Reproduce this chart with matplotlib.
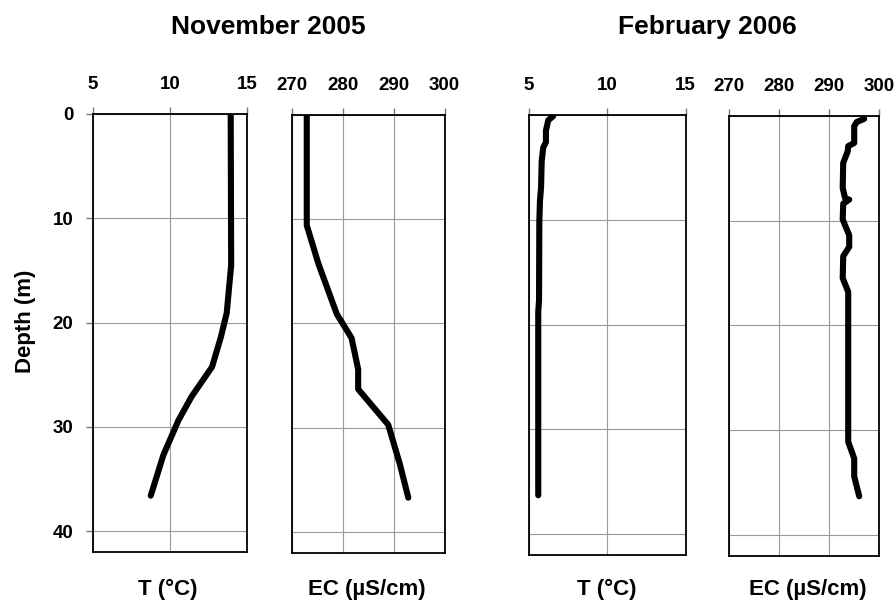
import matplotlib
matplotlib.use("Agg")
import matplotlib.pyplot as plt

plt.rcParams['font.family'] = ['Liberation Sans', 'DejaVu Sans']
plt.rcParams['font.weight'] = 'bold'

# November 2005 profiles
nov_t_depth = [0, 14.5, 19.1, 21.4, 24.25, 27.1, 29.4, 32.7, 36.6]
nov_t = [13.94, 13.97, 13.68, 13.3, 12.73, 11.4, 10.54, 9.57, 8.75]

nov_ec_depth = [0, 10.6, 14.3, 19.1, 21.4, 24.4, 26.3, 29.7, 33.5, 36.7]
nov_ec = [272.9, 272.9, 275.2, 278.8, 281.7, 283.0, 283.0, 288.9, 291.2, 292.85]

# February 2006 profiles
feb_t_depth = [0.1, 0.5, 1.5, 2.6, 3.1, 4.4, 6.9, 8.2, 10.1, 17.7, 18.8, 36.3]
feb_t = [6.55, 6.23, 6.08, 6.08, 5.91, 5.81, 5.77, 5.7, 5.66, 5.64, 5.59, 5.59]

feb_ec_depth = [0.3, 0.6, 1.0, 2.6, 2.9, 3.4, 4.5, 6.9, 7.9, 8.0, 8.4, 9.9,
                11.4, 12.5, 13.4, 15.5, 16.8, 31.1, 32.7, 34.4, 36.3]
feb_ec = [297.1, 295.6, 295.1, 295.1, 293.9, 293.8, 292.9, 292.8, 293.3, 294.1,
          292.9, 292.8, 294.1, 294.1, 292.9, 292.8, 293.9, 293.9, 295.1, 295.1, 296.1]

t_ticks = [5, 10, 15]
ec_ticks = [270, 280, 290, 300]
depth_ticks = [0, 10, 20, 30, 40]

fig = plt.figure(figsize=(8.96, 6.03), dpi=100)

boxes = [
    [0.1038, 0.0846, 0.1719, 0.7264],
    [0.3259, 0.0829, 0.1704, 0.7269],
    [0.5904, 0.0796, 0.1749, 0.7297],
    [0.8133, 0.0779, 0.1674, 0.7302],
]
panels = [
    (nov_t, nov_t_depth, (5, 15), t_ticks, 'T (°C)', 0.1875),
    (nov_ec, nov_ec_depth, (270, 300), ec_ticks, 'EC (µS/cm)', 0.409),
    (feb_t, feb_t_depth, (5, 15), t_ticks, 'T (°C)', 0.6775),
    (feb_ec, feb_ec_depth, (270, 300), ec_ticks, 'EC (µS/cm)', 0.9018),
]

for i, (box, (x, d, xlim, xt, lab, lx)) in enumerate(zip(boxes, panels)):
    ax = fig.add_axes(box)
    ax.plot(x, d, color='black', lw=4.4, solid_capstyle='round',
            solid_joinstyle='round', zorder=3)
    ax.set_xlim(*xlim)
    ax.set_ylim(42, 0)
    ax.set_xticks(xt)
    ax.set_yticks(depth_ticks)
    ax.xaxis.tick_top()
    ax.tick_params(axis='x', direction='out', length=5, width=1, color='#777777',
                   pad=10, labelsize=13.5)
    if i == 0:
        ax.tick_params(axis='y', direction='out', length=5, width=1, color='#777777',
                       pad=9, labelsize=13.5)
    else:
        ax.tick_params(axis='y', length=0, labelleft=False)
    ax.grid(True, color='#999999', lw=0.8)
    ax.set_axisbelow(True)
    for s in ax.spines.values():
        s.set_linewidth(1.3)
        s.set_color('black')
    fig.text(lx, 0.023, lab, ha='center', va='center',
             fontsize=16, fontweight='bold')

fig.text(0.028, 0.467, 'Depth (m)', ha='center', va='center', rotation=90,
         fontsize=16, fontweight='bold')
fig.text(0.300, 0.955, 'November 2005', ha='center', va='center',
         fontsize=19, fontweight='bold')
fig.text(0.790, 0.955, 'February 2006', ha='center', va='center',
         fontsize=19, fontweight='bold')

fig.savefig('out.png', dpi=100)
